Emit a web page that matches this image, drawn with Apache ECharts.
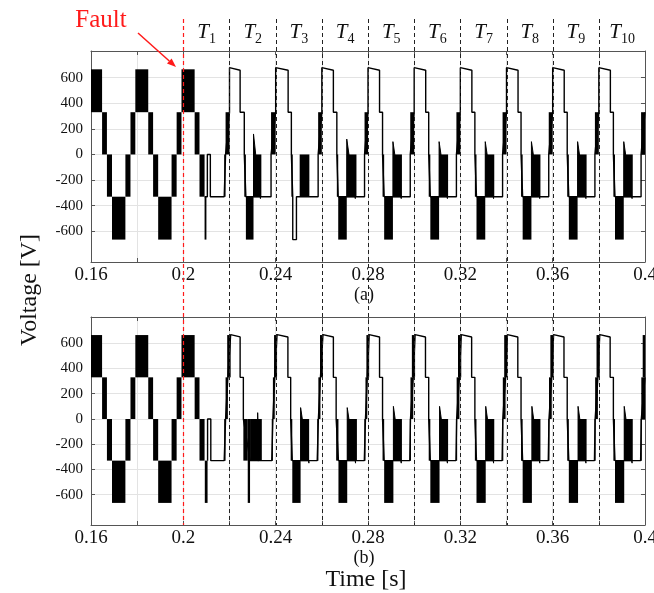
<!DOCTYPE html>
<html>
<head>
<meta charset="utf-8">
<script src="https://cdn.jsdelivr.net/npm/echarts@6/dist/echarts.min.js"></script>
<style>
  html, body { margin: 0; padding: 0; background: #fff; }
  #chart { width: 654px; height: 593px; }
</style>
</head>
<body>
<div id="chart"></div>
<script>
// Two-panel inverter output voltage: (a) and (b), fault at t = 0.2 s
const SERIF = '"Liberation Serif", "DejaVu Serif", serif';

const timeRange = [0.16, 0.4];
const voltRange = [-840, 808];
const voltTicks = [-600, -400, -200, 0, 200, 400, 600];
const faultTime = 0.2;
const boundaryTimes = [0.22, 0.24, 0.26, 0.28, 0.30, 0.32, 0.34, 0.36, 0.38];
const cycleCenters = [0.21, 0.23, 0.25, 0.27, 0.29, 0.31, 0.33, 0.35, 0.37, 0.39];
const cycleNames = ['1', '2', '3', '4', '5', '6', '7', '8', '9', '10'];

// PWM switching bands before the fault (same in both panels): [t0, t1, low, high]
const pwmPre = [
  [0.1600, 0.1648, 330, 665], [0.1648, 0.1669, 0, 330], [0.1669, 0.1691, -330, 0],
  [0.1691, 0.1749, -665, -330], [0.1749, 0.1771, -330, 0], [0.1771, 0.1792, 0, 330],
  [0.1792, 0.1848, 330, 665], [0.1848, 0.1869, 0, 330], [0.1869, 0.1891, -330, 0],
  [0.1891, 0.1949, -665, -330], [0.1949, 0.1971, -330, 0], [0.1971, 0.1992, 0, 330],
  [0.1992, 0.2049, 330, 665], [0.2049, 0.2070, 0, 330], [0.2070, 0.2092, -330, 0]
];

// Panel (a) after the fault
const pwmA = [
  [0.2092, 0.2100, -665, -330], [0.2177, 0.2183, -330, 0], [0.2183, 0.2200, 0, 330],
  [0.2264, 0.2271, -330, 0], [0.2271, 0.2304, -665, -330], [0.2304, 0.2338, -330, 0], [0.2380, 0.2400, 0, 330],
  [0.2468, 0.2474, -330, 0], [0.2504, 0.2546, -330, 0], [0.2584, 0.2600, 0, 330],
  [0.2665, 0.2671, -330, 0], [0.2671, 0.2708, -665, -330], [0.2708, 0.2750, -330, 0], [0.2785, 0.2800, 0, 330],
  [0.2863, 0.2870, -330, 0], [0.2870, 0.2908, -665, -330], [0.2908, 0.2947, -330, 0], [0.2983, 0.3000, 0, 330],
  [0.3063, 0.3070, -330, 0], [0.3070, 0.3108, -665, -330], [0.3108, 0.3147, -330, 0], [0.3183, 0.3200, 0, 330],
  [0.3263, 0.3270, -330, 0], [0.3270, 0.3308, -665, -330], [0.3308, 0.3347, -330, 0], [0.3383, 0.3400, 0, 330],
  [0.3463, 0.3470, -330, 0], [0.3470, 0.3508, -665, -330], [0.3508, 0.3547, -330, 0], [0.3583, 0.3600, 0, 330],
  [0.3663, 0.3670, -330, 0], [0.3670, 0.3708, -665, -330], [0.3708, 0.3747, -330, 0], [0.3783, 0.3800, 0, 330],
  [0.3863, 0.3870, -330, 0], [0.3870, 0.3908, -665, -330], [0.3908, 0.3947, -330, 0], [0.3983, 0.4000, 0, 330]
];
// sloped spikes: [t0, peak, t1, end]
const wedgeA = [
  [0.2304, 160, 0.2334, -345], [0.2708, 120, 0.2745, -345], [0.2908, 100, 0.2944, -345],
  [0.3108, 100, 0.3144, -345], [0.3308, 100, 0.3344, -345], [0.3508, 100, 0.3544, -345],
  [0.3708, 100, 0.3744, -345], [0.3908, 100, 0.3944, -345]
];
const pathA = [
  [0.2092, -330], [0.2104, -330], [0.2104, 0], [0.2117, 0], [0.2117, -330], [0.2177, -330], [0.2183, 0], [0.2200, 330],
  [0.2200, 678], [0.2246, 658], [0.2246, 330], [0.2264, 330], [0.2264, 0], [0.2271, -330], [0.2380, -330], [0.2380, 0], [0.2400, 330],
  [0.2400, 678], [0.2454, 658], [0.2454, 330], [0.2468, 330], [0.2468, 0], [0.2474, -330], [0.2474, -665], [0.2490, -665], [0.2490, -330], [0.2584, -330], [0.2584, 0], [0.2600, 330],
  [0.2600, 678], [0.2650, 658], [0.2650, 330], [0.2665, 330], [0.2665, 0], [0.2671, -330], [0.2785, -330], [0.2785, 0], [0.2800, 330],
  [0.2800, 678], [0.2850, 658], [0.2850, 330], [0.2863, 330], [0.2863, 0], [0.2870, -330], [0.2983, -330], [0.2983, 0], [0.3000, 330],
  [0.3000, 678], [0.3050, 658], [0.3050, 330], [0.3063, 330], [0.3063, 0], [0.3070, -330], [0.3183, -330], [0.3183, 0], [0.3200, 330],
  [0.3200, 678], [0.3250, 658], [0.3250, 330], [0.3263, 330], [0.3263, 0], [0.3270, -330], [0.3383, -330], [0.3383, 0], [0.3400, 330],
  [0.3400, 678], [0.3450, 658], [0.3450, 330], [0.3463, 330], [0.3463, 0], [0.3470, -330], [0.3583, -330], [0.3583, 0], [0.3600, 330],
  [0.3600, 678], [0.3650, 658], [0.3650, 330], [0.3663, 330], [0.3663, 0], [0.3670, -330], [0.3783, -330], [0.3783, 0], [0.3800, 330],
  [0.3800, 678], [0.3850, 658], [0.3850, 330], [0.3863, 330], [0.3863, 0], [0.3870, -330], [0.3983, -330], [0.3983, 0], [0.4000, 330]
];

// Panel (b) after the fault
const pwmB = [
  [0.2093, 0.2105, -665, -330], [0.2177, 0.2183, -330, 0], [0.2183, 0.2193, 0, 330], [0.2190, 0.2205, 330, 665],
  [0.2260, 0.2279, -330, 0], [0.2279, 0.2289, -665, 0], [0.2289, 0.2340, -330, 0],
  [0.2383, 0.2388, -330, 0], [0.2388, 0.2396, 0, 330], [0.2393, 0.2406, 330, 665],
  [0.2465, 0.2472, -330, 0], [0.2472, 0.2508, -665, -330], [0.2508, 0.2545, -330, 0],
  [0.2580, 0.2585, -330, 0], [0.2585, 0.2594, 0, 330], [0.2592, 0.2605, 330, 665],
  [0.2662, 0.2672, -330, 0], [0.2672, 0.2710, -665, -330], [0.2710, 0.2752, -330, 0],
  [0.2784, 0.2789, -330, 0], [0.2789, 0.2797, 0, 330], [0.2793, 0.2805, 330, 665],
  [0.2863, 0.2870, -330, 0], [0.2870, 0.2910, -665, -330], [0.2910, 0.2947, -330, 0],
  [0.2981, 0.2984, -330, 0], [0.2984, 0.2996, 0, 330], [0.2990, 0.3004, 330, 665],
  [0.3063, 0.3070, -330, 0], [0.3070, 0.3110, -665, -330], [0.3110, 0.3147, -330, 0],
  [0.3181, 0.3184, -330, 0], [0.3184, 0.3196, 0, 330], [0.3190, 0.3204, 330, 665],
  [0.3263, 0.3270, -330, 0], [0.3270, 0.3310, -665, -330], [0.3310, 0.3347, -330, 0],
  [0.3381, 0.3384, -330, 0], [0.3384, 0.3396, 0, 330], [0.3390, 0.3404, 330, 665],
  [0.3463, 0.3470, -330, 0], [0.3470, 0.3510, -665, -330], [0.3510, 0.3547, -330, 0],
  [0.3581, 0.3584, -330, 0], [0.3584, 0.3596, 0, 330], [0.3590, 0.3604, 330, 665],
  [0.3663, 0.3670, -330, 0], [0.3670, 0.3710, -665, -330], [0.3710, 0.3747, -330, 0],
  [0.3781, 0.3784, -330, 0], [0.3784, 0.3796, 0, 330], [0.3790, 0.3804, 330, 665],
  [0.3863, 0.3870, -330, 0], [0.3870, 0.3910, -665, -330], [0.3910, 0.3947, -330, 0],
  [0.3981, 0.3984, -330, 0], [0.3984, 0.4000, 0, 330], [0.3990, 0.4000, 330, 665]
];
const wedgeB = [
  [0.2322, 50, 0.2327, -330], [0.2508, 90, 0.2544, -350], [0.2710, 90, 0.2746, -350],
  [0.2910, 100, 0.2944, -350], [0.3110, 100, 0.3144, -350], [0.3310, 100, 0.3344, -350],
  [0.3510, 100, 0.3544, -350], [0.3710, 100, 0.3744, -350], [0.3910, 100, 0.3944, -350]
];
const pathB = [
  [0.2105, -330], [0.2105, 0], [0.2119, 0], [0.2119, -330], [0.2177, -330], [0.2183, 0], [0.2193, 330],
  [0.2205, 668], [0.2246, 650], [0.2246, 330], [0.2260, 330], [0.2260, 0], [0.2289, -330], [0.2383, -330], [0.2388, 0], [0.2396, 330],
  [0.2406, 668], [0.2453, 650], [0.2453, 330], [0.2465, 330], [0.2465, 0], [0.2472, -330], [0.2580, -330], [0.2585, 0], [0.2594, 330],
  [0.2605, 668], [0.2650, 650], [0.2650, 330], [0.2662, 330], [0.2662, 0], [0.2672, -330], [0.2784, -330], [0.2789, 0], [0.2797, 330],
  [0.2805, 668], [0.2850, 650], [0.2850, 330], [0.2863, 330], [0.2863, 0], [0.2870, -330], [0.2981, -330], [0.2984, 0], [0.2996, 330],
  [0.3004, 668], [0.3049, 650], [0.3049, 330], [0.3063, 330], [0.3063, 0], [0.3070, -330], [0.3181, -330], [0.3184, 0], [0.3196, 330],
  [0.3204, 668], [0.3249, 650], [0.3249, 330], [0.3263, 330], [0.3263, 0], [0.3270, -330], [0.3381, -330], [0.3384, 0], [0.3396, 330],
  [0.3404, 668], [0.3449, 650], [0.3449, 330], [0.3463, 330], [0.3463, 0], [0.3470, -330], [0.3581, -330], [0.3584, 0], [0.3596, 330],
  [0.3604, 668], [0.3649, 650], [0.3649, 330], [0.3663, 330], [0.3663, 0], [0.3670, -330], [0.3781, -330], [0.3784, 0], [0.3796, 330],
  [0.3804, 668], [0.3849, 650], [0.3849, 330], [0.3863, 330], [0.3863, 0], [0.3870, -330], [0.3981, -330], [0.3984, 0], [0.4000, 330]
];

// ---- chart ----
const chart = echarts.init(document.getElementById('chart'), null, { renderer: 'canvas' });

const BORDER = '#555';
const GRIDLINE = '#e3e3e3';

function bandItem(params, api) {
  const p0 = api.coord([api.value(0), api.value(3)]);
  const p1 = api.coord([api.value(1), api.value(2)]);
  const cs = params.coordSys;
  return {
    type: 'rect',
    shape: { x: p0[0], y: p0[1], width: Math.max(p1[0] - p0[0], 1.2), height: p1[1] - p0[1] },
    style: { fill: '#000' },
    clipPath: { type: 'rect', shape: { x: cs.x, y: cs.y, width: cs.width, height: cs.height } }
  };
}
function wedgeItem(params, api) {
  const t0 = api.value(0), pk = api.value(1), t1 = api.value(2), end = api.value(3);
  return {
    type: 'polygon',
    shape: { points: [api.coord([t0, -330]), api.coord([t0, pk]), api.coord([t1, end]), api.coord([t1, -330])] },
    style: { fill: '#000', stroke: '#000', lineWidth: 1 }
  };
}

function xAxes(gridIndex) {
  return [{
    type: 'value', gridIndex, min: timeRange[0], max: timeRange[1], interval: 0.02, position: 'bottom',
    axisLine: { show: true, onZero: false, lineStyle: { color: BORDER, width: 1 } },
    axisTick: { show: true, inside: true, length: 4, lineStyle: { color: BORDER } },
    splitLine: { show: true, lineStyle: { color: GRIDLINE, width: 1 } },
    axisLabel: {
      show: true, margin: 4, color: '#111', fontFamily: SERIF, fontSize: 19, hideOverlap: false,
      showMinLabel: true, showMaxLabel: true,
      formatter: v => (Math.round(v * 100) % 4 === 0 ? String(parseFloat(v.toFixed(2))) : '')
    }
  }, {
    type: 'value', gridIndex, min: timeRange[0], max: timeRange[1], interval: 0.02, position: 'top',
    axisLine: { show: true, onZero: false, lineStyle: { color: BORDER, width: 1 } },
    axisTick: { show: true, inside: true, length: 4, lineStyle: { color: BORDER } },
    splitLine: { show: false }, axisLabel: { show: false }
  }];
}
function yAxes(gridIndex) {
  return [{
    type: 'value', gridIndex, min: voltRange[0], max: voltRange[1], position: 'left',
    axisLine: { show: true, onZero: false, lineStyle: { color: BORDER, width: 1 } },
    axisTick: { show: true, inside: true, length: 4, customValues: voltTicks, lineStyle: { color: BORDER } },
    splitLine: { show: true, lineStyle: { color: GRIDLINE, width: 1 } },
    axisLabel: { show: true, margin: 8, color: '#111', fontFamily: SERIF, fontSize: 15, customValues: voltTicks,
      formatter: v => String(v) }
  }, {
    type: 'value', gridIndex, min: voltRange[0], max: voltRange[1], position: 'right',
    axisLine: { show: true, onZero: false, lineStyle: { color: BORDER, width: 1 } },
    axisTick: { show: true, inside: true, length: 4, customValues: voltTicks, lineStyle: { color: BORDER } },
    splitLine: { show: false }, axisLabel: { show: false }
  }];
}

function panelSeries(panel, pwm, wedges, path) {
  const xi = panel * 2, yi = panel * 2;
  return [
    { type: 'custom', xAxisIndex: xi, yAxisIndex: yi, renderItem: bandItem, data: pwmPre.concat(pwm),
      encode: { x: [0, 1], y: [2, 3] }, silent: true, z: 3 },
    { type: 'custom', xAxisIndex: xi, yAxisIndex: yi, renderItem: wedgeItem, data: wedges,
      encode: { x: [0, 2], y: [1, 3] }, silent: true, z: 3 },
    { type: 'line', xAxisIndex: xi, yAxisIndex: yi, data: path, showSymbol: false, symbol: 'none',
      lineStyle: { color: '#000', width: 1.4 }, clip: true, silent: true, z: 4 }
  ];
}

const option = {
  animation: false,
  backgroundColor: '#fff',
  grid: [
    { left: 91, top: 51, width: 554, height: 211, show: false, containLabel: false, outerBoundsMode: 'none' },
    { left: 91, top: 317, width: 554, height: 208, show: false, containLabel: false, outerBoundsMode: 'none' }
  ],
  xAxis: xAxes(0).concat(xAxes(1)),
  yAxis: yAxes(0).concat(yAxes(1)),
  series: panelSeries(0, pwmA, wedgeA, pathA).concat(panelSeries(1, pwmB, wedgeB, pathB))
};
chart.setOption(option);

// ---- annotations placed through the axis scales ----
const gA = option.grid[0], gB = option.grid[1];
const dashTop = gA.top - 32;
const dashBottom = gB.top + gB.height;
const gfx = [];

function xPix(t) { return chart.convertToPixel({ xAxisIndex: 0 }, t); }

boundaryTimes.forEach(t => {
  const x = Math.round(xPix(t)) + 0.5;
  gfx.push({ type: 'line', z: 50, silent: true,
    shape: { x1: x, y1: dashTop, x2: x, y2: dashBottom },
    style: { stroke: '#222', lineWidth: 1, lineDash: [4, 3] } });
});
{
  const x = Math.round(xPix(faultTime)) + 0.5;
  gfx.push({ type: 'line', z: 51, silent: true,
    shape: { x1: x, y1: dashTop, x2: x, y2: dashBottom },
    style: { stroke: '#ff1a1a', lineWidth: 1.2, lineDash: [4, 3] } });
}

cycleCenters.forEach((t, i) => {
  const xc = xPix(t);
  const subW = 7 * cycleNames[i].length;
  const dx = (12 - subW) / 2;
  gfx.push({ type: 'text', z: 60, silent: true, x: xc + dx, y: 32,
    style: { text: 'T', fill: '#111', font: 'italic 21px ' + SERIF, textAlign: 'right', textVerticalAlign: 'middle' } });
  gfx.push({ type: 'text', z: 60, silent: true, x: xc + dx, y: 39,
    style: { text: cycleNames[i], fill: '#111', font: '14px ' + SERIF, textAlign: 'left', textVerticalAlign: 'middle' } });
});

// "Fault" label with arrow pointing at the fault instant
gfx.push({ type: 'text', z: 60, silent: true, x: 101, y: 20,
  style: { text: 'Fault', fill: '#ff1a1a', font: '25px ' + SERIF, textAlign: 'center', textVerticalAlign: 'middle' } });
{
  const x1 = 138, y1 = 33, x2 = 176, y2 = 67;
  const ang = Math.atan2(y2 - y1, x2 - x1);
  const L = 9, W = 3.5;
  const bx = x2 - L * Math.cos(ang), by = y2 - L * Math.sin(ang);
  gfx.push({ type: 'line', z: 60, silent: true, shape: { x1, y1, x2: bx, y2: by },
    style: { stroke: '#ff1a1a', lineWidth: 1.5 } });
  gfx.push({ type: 'polygon', z: 60, silent: true,
    shape: { points: [[x2, y2], [bx - W * Math.sin(ang), by + W * Math.cos(ang)], [bx + W * Math.sin(ang), by - W * Math.cos(ang)]] },
    style: { fill: '#ff1a1a' } });
}

// axis titles and panel captions
gfx.push({ type: 'text', z: 60, silent: true, x: 30, y: 290, rotation: Math.PI / 2,
  style: { text: 'Voltage [V]', fill: '#111', font: '24px ' + SERIF, textAlign: 'center', textVerticalAlign: 'middle' } });
gfx.push({ type: 'text', z: 60, silent: true, x: 364, y: 295,
  style: { text: '(a)', fill: '#111', font: '18px ' + SERIF, textAlign: 'center', textVerticalAlign: 'middle' } });
gfx.push({ type: 'text', z: 60, silent: true, x: 364, y: 558,
  style: { text: '(b)', fill: '#111', font: '18px ' + SERIF, textAlign: 'center', textVerticalAlign: 'middle' } });
gfx.push({ type: 'text', z: 60, silent: true, x: 366, y: 580,
  style: { text: 'Time [s]', fill: '#111', font: '24px ' + SERIF, textAlign: 'center', textVerticalAlign: 'middle' } });

chart.setOption({ graphic: gfx });
</script>
</body>
</html>
